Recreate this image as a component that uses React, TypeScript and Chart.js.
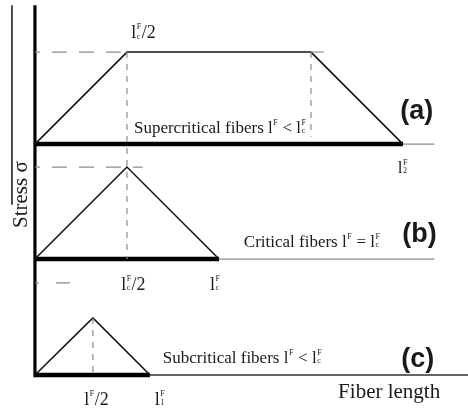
import React, { useEffect, useRef } from "react";
import { Chart, registerables } from "chart.js";

Chart.register(...registerables);

// ---- data (fiber length in units of l^F_c/2, stress in units of sigma_max) ----
const supercriticalX = [0, 1, 3, 4];
const supercriticalY = [0, 1, 1, 0];
const criticalX = [0, 1, 2];
const criticalY = [0, 1, 0];
const subcriticalX = [0, 0.63, 1.25];
const subcriticalY = [0, 0.62, 0];

// baselines of the three stacked panels (stress offset)
const panelBase = { a: 2.51, b: 1.26, c: 0 };

const X_MIN = -0.38;
const X_MAX = 4.707;
const Y_MIN = -0.37;
const Y_MAX = 4.076;

type Seg = { t: string; sup?: string; sub?: string };

// text labels: markup "l{F|c}" = l with superscript F and subscript c stacked
const labelTexts = [
  "l{F|c}/2",
  "Supercritical fibers l{F|} < l{F|c}",
  "(a)",
  "l{F|2}",
  "(b)",
  "Critical fibers l{F|} = l{F|c}",
  "l{F|c}/2",
  "l{F|c}",
  "Subcritical fibers l{F|} < l{F|c}",
  "(c)",
  "Fiber length",
  "l{F|}/2",
  "l{F|1}",
  "Stress σ",
];

const labelPlacement = [
  { x: 1.18, y: 1.15, p: "a", align: "center", size: 18, bold: false },
  { x: 1.076, y: 0.12, p: "a", align: "left", size: 17, bold: false },
  { x: 4.15, y: 0.38, p: "a", align: "center", size: 27, bold: true },
  { x: 4.0, y: -0.315, p: "a", align: "center", size: 17, bold: false },
  { x: 4.18, y: 0.29, p: "b", align: "center", size: 27, bold: true },
  { x: 2.27, y: 0.13, p: "b", align: "left", size: 17, bold: false },
  { x: 1.07, y: -0.337, p: "b", align: "center", size: 18, bold: false },
  { x: 1.96, y: -0.337, p: "b", align: "center", size: 18, bold: false },
  { x: 1.39, y: 0.13, p: "c", align: "left", size: 17, bold: false },
  { x: 4.16, y: 0.19, p: "c", align: "center", size: 27, bold: true },
  { x: 3.85, y: -0.25, p: "c", align: "center", size: 21, bold: false },
  { x: 0.67, y: -0.326, p: "c", align: "center", size: 18, bold: false },
  { x: 1.36, y: -0.326, p: "c", align: "center", size: 18, bold: false },
  { x: -0.165, y: 1.96, p: "c", align: "center", size: 21, bold: false, rotate: true },
];

function parse(s: string): Seg[] {
  const out: Seg[] = [];
  let buf = "";
  let i = 0;
  while (i < s.length) {
    if (s[i] === "{") {
      const end = s.indexOf("}", i);
      const [sup, sub] = s.slice(i + 1, end).split("|");
      if (buf) out.push({ t: buf });
      buf = "";
      out.push({ t: "", sup, sub });
      i = end + 1;
    } else {
      buf += s[i];
      i++;
    }
  }
  if (buf) out.push({ t: buf });
  return out;
}

function drawRich(ctx: CanvasRenderingContext2D, text: string, x: number, y: number, size: number, bold: boolean, align: string) {
  const segs = parse(text);
  const fam = bold ? "'Liberation Sans', Arial, sans-serif" : "'Liberation Serif', 'Times New Roman', serif";
  const main = `${bold ? "bold " : ""}${size}px ${fam}`;
  const small = `${Math.round(size * 0.45)}px ${fam}`;
  const widths = segs.map((sg) => {
    if (sg.t) {
      ctx.font = main;
      return ctx.measureText(sg.t).width;
    }
    ctx.font = small;
    return Math.max(ctx.measureText(sg.sup || "").width, ctx.measureText(sg.sub || "").width) + 1;
  });
  const total = widths.reduce((a, b) => a + b, 0);
  let cx = align === "center" ? x - total / 2 : x;
  ctx.textBaseline = "alphabetic";
  ctx.textAlign = "left";
  segs.forEach((sg, k) => {
    if (sg.t) {
      ctx.font = main;
      ctx.fillText(sg.t, cx, y);
    } else {
      ctx.font = small;
      if (sg.sup) ctx.fillText(sg.sup, cx + 0.5, y - size * 0.5);
      if (sg.sub) ctx.fillText(sg.sub, cx + 0.5, y + size * 0.02);
    }
    cx += widths[k];
  });
}

const textPlugin = {
  id: "schematicText",
  afterDatasetsDraw(chart: any) {
    const { ctx, scales } = chart;
    ctx.save();
    ctx.fillStyle = "#1a1a1a";
    labelTexts.forEach((txt, i) => {
      const L: any = labelPlacement[i];
      const px = scales.x.getPixelForValue(L.x);
      const py = scales.y.getPixelForValue(L.y + (panelBase as any)[L.p]);
      if (L.rotate) {
        ctx.save();
        ctx.translate(px, py);
        ctx.rotate(-Math.PI / 2);
        drawRich(ctx, txt, 0, L.size * 0.33, L.size, false, "center");
        ctx.restore();
      } else if (L.bold) {
        drawRich(ctx, txt, px, py + L.size * 0.35, L.size, true, "center");
      } else {
        drawRich(ctx, txt, px, py, L.size, false, L.align);
      }
    });
    ctx.restore();
  },
};

function pts(xs: number[], ys: number[], off: number) {
  return xs.map((x, i) => ({ x, y: ys[i] + off }));
}

export default function App() {
  const ref = useRef<HTMLCanvasElement>(null);
  useEffect(() => {
    if (!ref.current) return;
    const A = panelBase.a, B = panelBase.b, C = panelBase.c;
    const aEnd = supercriticalX[supercriticalX.length - 1];
    const bEnd = criticalX[criticalX.length - 1];
    const cEnd = subcriticalX[subcriticalX.length - 1];
    const aTop = supercriticalY[1];
    const bTop = criticalY[1];
    const cPeakX = subcriticalX[1];
    const cTop = subcriticalY[1];
    const dashGray = "#8a8a8a";
    const thinGray = "#8c8c8c";
    const line = (data: any[], color: string, width: number, dash: number[] = [], dashOffset = 0) => ({
      data,
      borderColor: color,
      borderWidth: width,
      borderDash: dash,
      borderDashOffset: dashOffset,
      showLine: true,
      pointRadius: 0,
      fill: false,
      tension: 0,
      clip: false as any,
    });
    const chart = new Chart(ref.current, {
      type: "scatter",
      data: {
        datasets: [
          // dashed guides
          line([{ x: 0, y: A + aTop }, { x: 1, y: A + aTop }], dashGray, 1.2, [15, 12], 10),
          line([{ x: 0, y: B + bTop }, { x: 1.17, y: B + bTop }], dashGray, 1.2, [15, 12], 10),
          line([{ x: 0, y: C + 1 }, { x: 0.51, y: C + 1 }], dashGray, 1.2, [14, 17], 10),
          line([{ x: 1, y: A + aTop }, { x: 1, y: B }], dashGray, 1.2, [6, 6]),
          line([{ x: 3, y: A + aTop }, { x: 3, y: A + 0.08 }], dashGray, 1.2, [6, 6]),
          line([{ x: cPeakX, y: C + cTop }, { x: cPeakX, y: C + 0.03 }], dashGray, 1.2, [6, 6]),
          // thin extensions
          line([{ x: 3, y: A + aTop }, { x: 3.14, y: A + aTop }], thinGray, 1.2),
          line([{ x: aEnd, y: A }, { x: 4.34, y: A }], thinGray, 1.3),
          line([{ x: bEnd, y: B }, { x: 4.34, y: B }], thinGray, 1.3),
          line([{ x: cEnd, y: C }, { x: X_MAX, y: C }], "#333", 1.5),
          // stress profiles
          line(pts(supercriticalX, supercriticalY, A), "#151515", 1.6),
          line(pts(criticalX, criticalY, B), "#151515", 1.6),
          line(pts(subcriticalX, subcriticalY, C), "#151515", 1.6),
          // thick fibre baselines
          line([{ x: 0, y: A }, { x: aEnd, y: A }], "#000", 4.5),
          line([{ x: 0, y: B }, { x: bEnd, y: B }], "#000", 4.5),
          line([{ x: 0, y: C }, { x: cEnd, y: C }], "#000", 4.5),
          // axes
          line([{ x: 0, y: -0.025 }, { x: 0, y: 4.02 }], "#000", 3.2),
          line([{ x: -0.25, y: 1.85 }, { x: -0.25, y: 4.02 }], "#000", 1.4),
        ],
      },
      options: {
        animation: false,
        responsive: false,
        devicePixelRatio: 1,
        layout: { padding: 0 },
        plugins: { legend: { display: false }, tooltip: { enabled: false } },
        scales: {
          x: { type: "linear", min: X_MIN, max: X_MAX, display: false },
          y: { type: "linear", min: Y_MIN, max: Y_MAX, display: false },
        },
      },
      plugins: [textPlugin],
    });
    return () => chart.destroy();
  }, []);
  return (
    <div style={{ position: "absolute", left: 0, top: 0, width: 468, height: 409, background: "#fff" }}>
      <canvas ref={ref} width={468} height={409} style={{ display: "block" }} />
    </div>
  );
}
